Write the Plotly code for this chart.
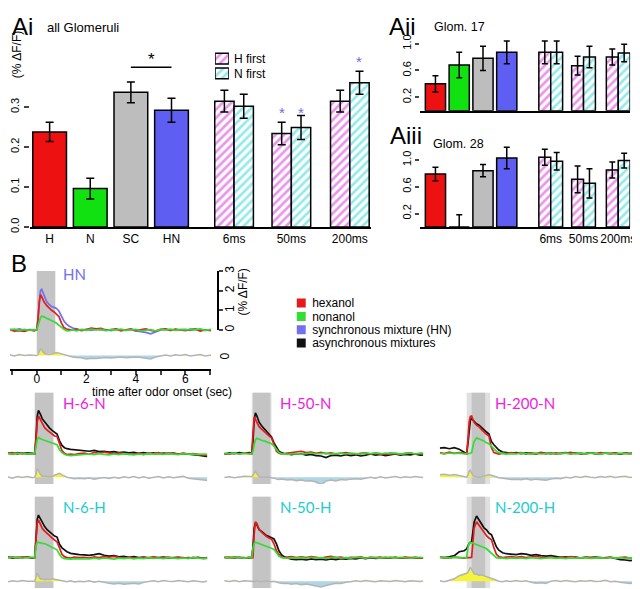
import plotly.graph_objects as go

# ------------------------------------------------------------------ data: panel A (bar charts)
SOLID_CATS = ["H", "N", "SC", "HN"]
DELAY_CATS = ["6ms", "50ms", "200ms"]
HATCH_LABELS = ["H first", "N first"]

AI_SOLID = [0.238, 0.096, 0.337, 0.292]
AI_SOLID_ERR = [0.024, 0.026, 0.026, 0.030]
AI_HFIRST = [0.315, 0.234, 0.315]
AI_HFIRST_ERR = [0.027, 0.028, 0.027]
AI_NFIRST = [0.302, 0.249, 0.361]
AI_NFIRST_ERR = [0.030, 0.030, 0.029]

AII_SOLID = [0.40, 0.68, 0.78, 0.87]
AII_SOLID_ERR = [0.12, 0.19, 0.18, 0.17]
AII_HFIRST = [0.87, 0.67, 0.80]
AII_HFIRST_ERR = [0.17, 0.14, 0.12]
AII_NFIRST = [0.87, 0.80, 0.86]
AII_NFIRST_ERR = [0.17, 0.16, 0.13]

AIII_SOLID = [0.79, 0.0, 0.84, 1.03]
AIII_SOLID_ERR = [0.10, 0.18, 0.09, 0.16]
AIII_HFIRST = [1.04, 0.71, 0.85]
AIII_HFIRST_ERR = [0.12, 0.20, 0.12]
AIII_NFIRST = [0.98, 0.65, 0.99]
AIII_NFIRST_ERR = [0.13, 0.22, 0.11]

# ------------------------------------------------------------------ data: panel B (time courses, % dF/F)
T = [-1.1, -0.9, -0.7, -0.5, -0.3, -0.1,
     0.0, 0.05, 0.1, 0.15, 0.2, 0.25, 0.3,
     0.4, 0.5, 0.6, 0.7, 0.8, 0.9, 1.0, 1.1, 1.2, 1.3,
     1.45, 1.6, 1.8,
     2.0, 2.2, 2.4, 2.6, 2.8, 3.0, 3.2, 3.4, 3.6, 3.8, 4.0, 4.2, 4.4, 4.6, 4.8,
     5.0, 5.2, 5.4, 5.6, 5.8, 6.0, 6.2, 6.4, 6.6, 6.8, 7.05]

HN_RED = [0.02, -0.06, -0.03, -0.07, 0.0, -0.05,
          0.0, 0.5, 1.4, 1.8, 1.7, 1.55, 1.42,
          1.25, 1.1, 1.0, 0.92, 0.82, 0.68, 0.35, 0.12, 0.05, 0.02,
          0.0, 0.04, -0.03,
          0.02, 0.1, 0.06, 0.08, -0.02, 0.03, 0.05, -0.04, 0.0, 0.06, -0.03, 0.02, 0.05,
          -0.02, -0.06, 0.03, 0.06, -0.02, 0.04, 0.0, -0.04, 0.03, 0.05, -0.06, 0.0, -0.03]
HN_GREEN = [0.0, 0.04, -0.02, 0.03, -0.02, 0.02,
            0.0, 0.2, 0.45, 0.62, 0.7, 0.7, 0.67,
            0.6, 0.55, 0.5, 0.42, 0.34, 0.22, 0.1, 0.03, -0.03, -0.05,
            0.02, -0.04, 0.03,
            -0.02, 0.04, 0.0, 0.03, -0.03, 0.02, 0.0, 0.04, -0.02, 0.01, 0.03, -0.04, 0.0,
            0.02, -0.05, 0.03, 0.0, 0.04, -0.02, 0.03, 0.0, 0.04, 0.02, 0.05, -0.02, 0.03]
HN_BLUE = [0.03, 0.0, 0.05, -0.02, 0.02, 0.0,
           0.0, 0.6, 1.6, 2.0, 2.07, 1.9, 1.75,
           1.45, 1.3, 1.2, 1.15, 1.1, 0.95, 0.7, 0.45, 0.3, 0.2,
           0.1, 0.05, 0.0,
           0.03, -0.02, 0.04, 0.0, 0.02, -0.03, 0.03, 0.0, -0.02, 0.02, -0.05, -0.08, -0.12,
           -0.2, -0.1, 0.0, 0.03, -0.02, 0.02, 0.0, 0.03, -0.02, 0.01, 0.03, -0.02, 0.0]
HN_DIFF = [0.04, -0.03, 0.05, 0.0, 0.03, 0.02,
           0.0, 0.05, 0.2, 0.33, 0.3, 0.18, 0.1,
           0.08, 0.05, 0.08, 0.12, 0.15, 0.12, 0.08, 0.04, 0.0, -0.04,
           -0.08, -0.1, -0.12,
           -0.18, -0.14, -0.16, -0.12, -0.1, -0.13, -0.1, -0.08, -0.12, -0.1, -0.08, -0.1, -0.14,
           -0.18, -0.08, -0.02, 0.03, -0.03, 0.04, 0.0, 0.05, -0.02, 0.03, 0.05, -0.03, 0.02]

H6N_BLACK = [0.03, -0.02, 0.05, 0.0, 0.04, 0.02,
             0.0, 0.8, 1.9, 2.2, 2.1, 1.95, 1.78,
             1.6, 1.45, 1.3, 1.18, 1.08, 1.0, 0.65, 0.42, 0.3, 0.25,
             0.22, 0.2, 0.15,
             0.15, 0.12, 0.16, 0.1, 0.12, 0.08, 0.1, 0.05, 0.08, 0.04, 0.06, 0.02, 0.05,
             0.0, 0.04, -0.02, 0.03, 0.0, 0.02, -0.03, 0.0, -0.02, -0.06, -0.08, -0.12, -0.16]
H6N_RED = [0.02, 0.05, -0.02, 0.03, -0.03, 0.0,
           0.0, 0.7, 1.6, 1.92, 1.8, 1.62, 1.48,
           1.32, 1.2, 1.1, 0.98, 0.9, 0.87, 0.45, 0.15, 0.02, -0.05,
           -0.03, -0.05, 0.0,
           0.03, -0.03, 0.06, 0.02, 0.08, 0.03, -0.02, 0.04, 0.0, -0.04, -0.02, 0.02, -0.05,
           0.03, 0.0, 0.05, -0.02, 0.03, 0.0, -0.03, 0.02, -0.02, 0.0, -0.05, -0.08, -0.1]
H6N_GREEN = [0.0, -0.03, 0.02, -0.02, 0.0, -0.03,
             0.0, 0.35, 0.7, 0.82, 0.8, 0.75, 0.72,
             0.68, 0.62, 0.58, 0.53, 0.5, 0.45, 0.2, 0.05, -0.03, -0.08,
             -0.1, -0.08, -0.05,
             -0.06, -0.02, -0.05, 0.0, -0.04, -0.06, -0.02, -0.05, 0.0, -0.03, -0.06, -0.02, -0.04,
             0.0, -0.03, -0.01, -0.04, 0.0, -0.02, -0.05, 0.0, -0.03, -0.02, -0.05, -0.02, -0.04]
H6N_DIFF = [0.02, -0.05, 0.03, -0.02, 0.03, -0.03,
            0.0, 0.15, 0.4, 0.35, 0.2, 0.1, 0.05,
            0.05, 0.03, 0.02, 0.05, 0.1, 0.18, 0.2, 0.12, 0.05, 0.0,
            -0.04, -0.08, -0.05,
            -0.08, -0.04, -0.1, -0.05, -0.02, -0.07, 0.0, -0.05, 0.02, -0.03, 0.03, -0.04, 0.02,
            -0.05, 0.0, 0.03, -0.04, 0.02, -0.03, 0.0, 0.04, -0.05, -0.08, -0.1, -0.15, -0.18]

H50N_BLACK = [-0.02, 0.04, 0.0, 0.05, 0.02, 0.05,
              0.0, 0.6, 1.7, 2.08, 1.95, 1.75, 1.6,
              1.42, 1.28, 1.15, 1.02, 0.85, 0.55, 0.3, 0.12, 0.05, 0.0,
              -0.02, -0.05, -0.02,
              0.0, -0.08, -0.04, -0.1, -0.12, -0.2, -0.1, -0.08, -0.12, -0.05, -0.1, -0.06, -0.12,
              -0.08, -0.02, -0.08, -0.04, -0.1, -0.05, -0.02, -0.08, -0.04, -0.06, -0.02, -0.08, -0.05]
H50N_RED = [0.0, -0.03, 0.03, -0.02, 0.02, 0.0,
            0.0, 1.0, 1.87, 1.75, 1.6, 1.48, 1.37,
            1.25, 1.12, 1.02, 0.9, 0.8, 0.45, 0.12, 0.02, -0.02, 0.0,
            0.03, 0.06, 0.1,
            0.12, 0.05, 0.08, 0.02, 0.06, 0.0, 0.04, -0.02, 0.03, 0.05, 0.0, -0.03, 0.02,
            0.04, -0.02, 0.03, 0.0, -0.04, 0.02, 0.0, -0.03, 0.02, 0.04, -0.02, 0.0, 0.02]
H50N_GREEN = [0.02, 0.0, 0.03, -0.02, 0.02, -0.02,
              0.0, 0.1, 0.45, 0.7, 0.78, 0.75, 0.72,
              0.68, 0.65, 0.6, 0.55, 0.5, 0.38, 0.22, 0.05, 0.0, -0.02,
              -0.04, -0.02, 0.0,
              -0.03, 0.0, 0.03, -0.02, 0.0, 0.02, -0.03, 0.0, 0.02, -0.02, 0.02, 0.0, -0.03,
              0.02, 0.0, 0.02, -0.02, 0.03, 0.0, 0.02, -0.03, 0.0, 0.03, -0.02, 0.02, 0.0]
H50N_DIFF = [-0.02, 0.02, -0.03, 0.02, 0.05, 0.04,
             0.02, 0.1, 0.22, 0.3, 0.2, 0.08, 0.02,
             0.0, -0.02, 0.02, 0.0, -0.02, -0.05, -0.1, -0.12, -0.1, -0.12,
             -0.15, -0.12, -0.18,
             -0.15, -0.2, -0.18, -0.25, -0.38, -0.2, -0.15, -0.2, -0.12, -0.15, -0.1, -0.08, -0.1,
             -0.04, 0.0, -0.05, 0.02, -0.04, 0.0, 0.03, -0.03, 0.02, -0.02, 0.03, 0.0, -0.03]

H200N_BLACK = [0.28, 0.3, 0.25, 0.3, 0.22, 0.08,
               0.0, 0.5, 1.3, 1.7, 1.78, 1.7, 1.62,
               1.52, 1.45, 1.32, 1.22, 1.1, 1.0, 0.62, 0.45, 0.3, 0.18,
               0.08, 0.05, 0.02,
               0.05, 0.0, 0.04, 0.02, -0.02, 0.03, 0.0, 0.04, -0.02, 0.02, 0.05, 0.0, 0.03,
               -0.02, 0.02, 0.04, 0.0, -0.02, 0.03, 0.0, 0.02, -0.03, 0.02, 0.0, 0.03, 0.0]
H200N_RED = [0.05, 0.0, 0.08, 0.02, 0.05, 0.0,
             0.0, 0.7, 1.6, 1.9, 1.92, 1.75, 1.6,
             1.45, 1.37, 1.22, 1.08, 0.98, 0.9, 0.3, 0.05, 0.0, -0.02,
             0.02, 0.0, 0.05,
             0.02, 0.05, -0.02, 0.04, 0.0, 0.06, 0.02, -0.02, 0.04, 0.0, 0.03, 0.06, 0.0,
             0.03, -0.02, 0.04, 0.0, 0.05, 0.02, 0.0, 0.04, -0.02, 0.03, 0.0, 0.05, 0.02]
H200N_GREEN = [0.02, -0.02, 0.03, 0.0, 0.02, -0.02,
               0.0, -0.02, 0.0, 0.02, 0.05, 0.35, 0.6,
               0.8, 0.76, 0.7, 0.64, 0.55, 0.5, 0.38, 0.25, 0.12, 0.05,
               0.0, -0.03, 0.0,
               -0.02, 0.02, 0.0, -0.03, 0.02, -0.02, 0.0, 0.03, -0.02, 0.0, 0.02, -0.03, 0.0,
               0.02, -0.02, 0.02, 0.0, -0.03, 0.02, 0.0, -0.02, 0.02, 0.0, -0.02, 0.02, 0.0]
H200N_DIFF = [0.12, 0.15, 0.1, 0.14, 0.08, 0.03,
              0.0, 0.1, 0.3, 0.35, 0.2, 0.08, 0.05,
              0.03, 0.0, 0.02, 0.05, 0.08, 0.12, 0.1, 0.05, 0.0, -0.03,
              -0.06, -0.1, -0.12,
              -0.1, -0.13, -0.08, -0.14, -0.1, -0.12, -0.16, -0.1, -0.05, -0.08, 0.0, -0.04, 0.03,
              -0.02, 0.04, 0.0, -0.03, 0.03, 0.0, 0.04, -0.02, 0.02, 0.05, -0.02, 0.03, 0.0]

N6H_BLACK = [0.03, -0.02, 0.02, 0.0, 0.04, -0.02,
             0.0, 0.9, 1.95, 2.17, 2.05, 1.9, 1.75,
             1.58, 1.42, 1.3, 1.17, 1.1, 1.05, 0.68, 0.5, 0.38, 0.3,
             0.22, 0.18, 0.15,
             0.14, 0.12, 0.15, 0.2, 0.12, 0.08, 0.1, 0.04, 0.06, 0.02, 0.05, 0.0, 0.03,
             -0.02, 0.02, 0.0, 0.03, -0.02, 0.0, 0.02, -0.03, 0.0, -0.02, 0.02, -0.04, -0.02]
N6H_RED = [0.0, 0.04, -0.02, 0.03, 0.0, 0.02,
           0.0, 0.9, 1.75, 1.92, 1.8, 1.62, 1.5,
           1.35, 1.25, 1.12, 1.0, 0.88, 0.8, 0.5, 0.17, 0.05, 0.0,
           -0.02, 0.03, 0.0,
           0.02, -0.02, 0.04, 0.0, 0.05, 0.02, 0.06, 0.0, -0.03, 0.02, 0.0, -0.03, 0.02,
           0.0, 0.04, -0.02, 0.0, 0.03, -0.02, 0.02, 0.0, -0.04, 0.02, 0.0, -0.03, 0.02]
N6H_GREEN = [-0.02, 0.02, 0.0, -0.03, 0.02, 0.0,
             0.0, 0.6, 0.78, 0.78, 0.76, 0.74, 0.73,
             0.72, 0.65, 0.58, 0.52, 0.45, 0.4, 0.17, 0.0, -0.05, -0.06,
             -0.08, -0.05, -0.06,
             -0.04, -0.07, -0.03, -0.06, -0.02, -0.05, -0.08, -0.03, -0.05, -0.02, -0.06, -0.03, -0.05,
             0.0, -0.04, -0.02, -0.05, 0.0, -0.03, -0.05, -0.02, -0.04, 0.0, -0.03, -0.05, -0.02]
N6H_DIFF = [-0.03, 0.02, -0.02, 0.03, 0.0, 0.02,
            0.0, 0.2, 0.4, 0.3, 0.15, 0.1, 0.12,
            0.08, 0.1, 0.08, 0.12, 0.1, 0.08, 0.05, 0.02, 0.0, -0.03,
            0.02, -0.04, 0.0,
            -0.03, 0.02, -0.05, 0.0, -0.06, -0.1, -0.14, -0.1, -0.15, -0.12, -0.1, -0.14, -0.06,
            -0.02, 0.02, -0.03, 0.03, 0.0, -0.02, 0.04, 0.0, -0.03, 0.02, 0.0, -0.04, 0.02]

N50H_BLACK = [0.02, -0.02, 0.03, 0.0, -0.02, 0.02,
              0.0, 0.5, 1.5, 1.78, 1.72, 1.55, 1.42,
              1.33, 1.22, 1.12, 1.08, 1.0, 0.95, 0.7, 0.35, 0.15, 0.05,
              -0.02, -0.08, -0.1,
              -0.08, -0.12, -0.06, -0.1, -0.08, -0.12, -0.06, -0.1, -0.05, -0.08, -0.04, -0.06, -0.02,
              -0.05, 0.0, -0.04, -0.02, 0.0, -0.03, 0.02, -0.02, 0.0, -0.03, 0.0, -0.02, 0.0]
N50H_RED = [0.0, 0.03, -0.02, 0.02, 0.0, -0.03,
            0.0, 0.0, 1.2, 1.83, 1.75, 1.6, 1.45,
            1.3, 1.17, 1.08, 1.0, 0.94, 0.7, 0.35, 0.15, 0.03, 0.0,
            0.02, 0.05, 0.0,
            0.04, 0.0, 0.05, 0.02, -0.02, 0.03, 0.06, 0.0, 0.03, -0.02, 0.02, 0.0, 0.04,
            -0.02, 0.02, 0.0, 0.03, -0.03, 0.02, 0.0, -0.02, 0.03, 0.0, 0.02, -0.02, 0.0]
N50H_GREEN = [0.0, -0.02, 0.03, 0.0, -0.02, 0.02,
              0.0, 0.5, 0.72, 0.78, 0.76, 0.72, 0.7,
              0.67, 0.62, 0.58, 0.55, 0.48, 0.42, 0.25, 0.08, 0.0, -0.02,
              -0.03, 0.0, -0.02,
              0.0, -0.03, 0.02, -0.02, 0.0, -0.04, 0.0, 0.02, -0.03, 0.0, -0.02, 0.02, 0.0,
              -0.03, 0.02, 0.0, -0.02, 0.03, 0.0, -0.02, 0.02, 0.0, -0.03, 0.0, 0.02, -0.02]
N50H_DIFF = [0.02, -0.02, 0.03, -0.03, 0.02, 0.0,
             0.0, 0.02, 0.0, -0.02, 0.02, 0.0, -0.03,
             0.0, -0.02, 0.02, 0.0, -0.03, 0.0, -0.05, -0.08, -0.1, -0.12,
             -0.1, -0.15, -0.12,
             -0.18, -0.15, -0.2, -0.22, -0.3, -0.22, -0.15, -0.1, -0.12, -0.05, -0.03, 0.02, -0.02,
             0.03, 0.0, -0.03, 0.02, 0.0, -0.02, 0.03, 0.0, -0.03, 0.02, 0.0, -0.02, 0.02]

N200H_BLACK = [0.02, 0.0, 0.04, 0.1, 0.3, 0.35,
               0.45, 0.6, 0.72, 0.78, 0.8, 1.3, 1.8,
               2.12, 1.9, 1.67, 1.52, 1.42, 1.25, 1.17, 0.85, 0.55, 0.38,
               0.25, 0.2, 0.17,
               0.15, 0.2, 0.18, 0.12, 0.15, 0.1, 0.08, 0.1, 0.05, 0.02, 0.04, 0.0, 0.03,
               -0.02, 0.02, 0.0, 0.03, 0.0, -0.02, 0.02, -0.05, -0.1, -0.12, -0.15, -0.12, -0.14]
N200H_RED = [0.02, 0.0, -0.02, 0.03, 0.0, -0.02,
             0.0, 0.0, -0.02, 0.0, 0.02, 0.9, 1.5,
             1.83, 1.65, 1.42, 1.25, 1.12, 1.0, 0.92, 0.5, 0.17, 0.05,
             0.0, 0.03, 0.05,
             0.02, 0.05, 0.0, 0.04, 0.06, 0.02, 0.0, 0.04, -0.02, 0.03, 0.0, 0.05, 0.02,
             -0.02, 0.03, 0.0, 0.02, -0.03, 0.0, 0.03, -0.02, 0.0, 0.03, -0.02, 0.0, 0.02]
N200H_GREEN = [0.0, 0.02, -0.02, 0.03, 0.0, 0.02,
               0.0, 0.5, 0.72, 0.78, 0.76, 0.72, 0.7,
               0.67, 0.62, 0.58, 0.52, 0.45, 0.33, 0.2, 0.08, 0.0, -0.03,
               -0.02, -0.05, -0.02,
               -0.04, -0.02, -0.05, 0.0, -0.03, -0.05, -0.02, 0.0, -0.04, -0.02, -0.05, 0.0, -0.03,
               -0.02, 0.0, -0.04, -0.02, 0.0, -0.03, 0.02, -0.02, 0.0, -0.03, 0.0, -0.02, 0.0]
N200H_DIFF = [0.02, -0.03, 0.05, 0.12, 0.28, 0.35,
              0.4, 0.45, 0.55, 0.7, 0.6, 0.45, 0.38,
              0.35, 0.3, 0.32, 0.28, 0.25, 0.22, 0.15, 0.1, 0.05, 0.0,
              -0.03, 0.02, -0.02,
              0.03, -0.02, 0.02, -0.05, -0.1, -0.08, -0.12, 0.0, 0.04, -0.02, 0.03, 0.0, -0.03,
              0.02, 0.0, 0.04, -0.02, 0.0, 0.05, -0.03, 0.0, -0.05, -0.1, -0.12, -0.08, -0.05]

LOWER_TITLES = ["H-6-N", "H-50-N", "H-200-N", "N-6-H", "N-50-H", "N-200-H"]
LOWER_DELAYS = [0.006, 0.05, 0.2, 0.006, 0.05, 0.2]   # s between first and second odor
ODOR_DURATION = 0.75                                 # s
LEGEND_LABELS = ["hexanol", "nonanol", "synchronous mixture (HN)", "asynchronous mixtures"]

for arr in [HN_RED, HN_GREEN, HN_BLUE, HN_DIFF, H6N_BLACK, H6N_RED, H6N_GREEN, H6N_DIFF,
            H50N_BLACK, H50N_RED, H50N_GREEN, H50N_DIFF, H200N_BLACK, H200N_RED, H200N_GREEN,
            H200N_DIFF, N6H_BLACK, N6H_RED, N6H_GREEN, N6H_DIFF, N50H_BLACK, N50H_RED,
            N50H_GREEN, N50H_DIFF, N200H_BLACK, N200H_RED, N200H_GREEN, N200H_DIFF]:
    assert len(arr) == len(T), len(arr)

# ------------------------------------------------------------------ styling / layout helpers
W, H = 640, 589
def fx(x): return x / W
def fy(y): return 1 - y / H

FONT = "Liberation Sans, Arial, sans-serif"
TFONT = "Lato, Liberation Sans, sans-serif"
RED, GREEN, BLUE, BLACK, GRAYBAR = "#ee1111", "#11e011", "#5e5ef2", "#111111", "#bdbdbd"
TR_RED, TR_GREEN, TR_BLUE = "#e41a1c", "#33dd33", "#7070f0"
MAGENTA, CYAN = "#d52ad5", "#2ad5d5"
TITLE_MAG, TITLE_CYAN = "#ee22dd", "#22cccc"
STAR_BLUE = "#6b6be0"
YELLOW, LBLUE, DGRAY = "#f4f43a", "#aed6e6", "#b4b4b4"
BOX_DARK, BOX_LIGHT = "#c4c4c4", "#e0e0e0"

fig = go.Figure()

def bar_panel(n, solid, solid_err, hf, hf_err, nf, nf_err, solid_pos, group_pos, sw, hw, capw):
    xa, ya = ("x", "y") if n == 1 else (f"x{n}", f"y{n}")
    fig.add_trace(go.Bar(x=solid_pos, y=solid, width=sw, xaxis=xa, yaxis=ya, cliponaxis=False,
                         marker=dict(color=[RED, GREEN, GRAYBAR, BLUE], line=dict(color="black", width=1.5)),
                         error_y=dict(type="data", array=solid_err, color="black", thickness=1.5, width=capw)))
    for vals, errs, col, off in [(hf, hf_err, MAGENTA, -hw), (nf, nf_err, CYAN, 0)]:
        fig.add_trace(go.Bar(x=group_pos, y=vals, width=hw, offset=off, xaxis=xa, yaxis=ya, cliponaxis=False,
                             marker=dict(color="white", line=dict(color="black", width=1.5),
                                         pattern=dict(shape="/", fgcolor=col, bgcolor="white", size=6, solidity=0.45)),
                             error_y=dict(type="data", array=errs, color="black", thickness=1.5, width=capw)))

AI_SOLID_POS, AI_GROUP_POS = [1, 2, 3, 4], [5.54, 6.95, 8.39]
AII_SOLID_POS, AII_GROUP_POS = [1, 2, 3, 4], [5.85, 7.23, 8.69]
bar_panel(1, AI_SOLID, AI_SOLID_ERR, AI_HFIRST, AI_HFIRST_ERR, AI_NFIRST, AI_NFIRST_ERR,
          AI_SOLID_POS, AI_GROUP_POS, 0.83, 0.476, 4)
bar_panel(2, AII_SOLID, AII_SOLID_ERR, AII_HFIRST, AII_HFIRST_ERR, AII_NFIRST, AII_NFIRST_ERR,
          AII_SOLID_POS, AII_GROUP_POS, 0.85, 0.5, 3)
bar_panel(3, AIII_SOLID, AIII_SOLID_ERR, AIII_HFIRST, AIII_HFIRST_ERR, AIII_NFIRST, AIII_NFIRST_ERR,
          AII_SOLID_POS, AII_GROUP_POS, 0.85, 0.5, 3)

# hatched legend for Ai, drawn as a tiny horizontal bar chart whose labels are axis ticks
fig.add_trace(go.Bar(x=[1, 1], y=HATCH_LABELS, orientation="h", width=0.72, xaxis="x13", yaxis="y13",
                     cliponaxis=False,
                     marker=dict(color="white", line=dict(color="black", width=1.5),
                                 pattern=dict(shape="/", fgcolor=[MAGENTA, CYAN], bgcolor="white",
                                              size=6, solidity=0.45))))

# ---- B: time courses
def diff_traces(xa, ya, d, offset):
    base = [offset] * len(d)
    pos = [offset + max(v, 0) for v in d]
    neg = [offset + min(v, 0) for v in d]
    common = dict(x=T, xaxis=xa, yaxis=ya, mode="lines", hoverinfo="skip")
    fig.add_trace(go.Scatter(y=base, line=dict(width=0), **common))
    fig.add_trace(go.Scatter(y=pos, fill="tonexty", fillcolor=YELLOW, line=dict(width=0), **common))
    fig.add_trace(go.Scatter(y=base, line=dict(width=0), **common))
    fig.add_trace(go.Scatter(y=neg, fill="tonexty", fillcolor=LBLUE, line=dict(width=0), **common))
    fig.add_trace(go.Scatter(y=[offset + v for v in d], line=dict(color=DGRAY, width=1.5), **common))

def trace(xa, ya, vals, color):
    fig.add_trace(go.Scatter(x=T, y=vals, xaxis=xa, yaxis=ya, mode="lines",
                             line=dict(color=color, width=1.7)))

# top HN panel
diff_traces("x4", "y4", HN_DIFF, -1.3)
trace("x4", "y4", HN_BLUE, TR_BLUE)
trace("x4", "y4", HN_RED, TR_RED)
trace("x4", "y4", HN_GREEN, TR_GREEN)
fig.add_trace(go.Scatter(x=[None], y=[None], xaxis="x4", yaxis="y5", mode="lines"))  # scale bar axis

LOWER_DATA = [
    (H6N_BLACK, H6N_RED, H6N_GREEN, H6N_DIFF),
    (H50N_BLACK, H50N_RED, H50N_GREEN, H50N_DIFF),
    (H200N_BLACK, H200N_RED, H200N_GREEN, H200N_DIFF),
    (N6H_BLACK, N6H_RED, N6H_GREEN, N6H_DIFF),
    (N50H_BLACK, N50H_RED, N50H_GREEN, N50H_DIFF),
    (N200H_BLACK, N200H_RED, N200H_GREEN, N200H_DIFF),
]
for k, (blk, red, grn, dif) in enumerate(LOWER_DATA):
    n = 6 + k
    xa, ya = f"x{n}", f"y{n}"
    diff_traces(xa, ya, dif, -1.2)
    trace(xa, ya, blk, BLACK)
    trace(xa, ya, red, TR_RED)
    trace(xa, ya, grn, TR_GREEN)

# legend of B as a categorical marker column with labels as tick text
fig.add_trace(go.Scatter(x=[0, 0, 0, 0], y=LEGEND_LABELS, mode="markers", xaxis="x12", yaxis="y12",
                         marker=dict(symbol="square", size=9, color=[TR_RED, TR_GREEN, TR_BLUE, BLACK])))

# ------------------------------------------------------------------ layout
hidden = dict(visible=False, showgrid=False, zeroline=False)
lay = dict(width=W, height=H, margin=dict(l=0, r=0, t=0, b=0), showlegend=False,
           paper_bgcolor="white", plot_bgcolor="rgba(0,0,0,0)", barmode="overlay",
           font=dict(family=FONT, color="black", size=12))

# Ai
lay["xaxis"] = dict(domain=[fx(22), fx(366)], range=[0.512, 8.90], anchor="y", showgrid=False,
                    zeroline=False, showline=True, linecolor="black", linewidth=1.5, ticks="",
                    tickvals=AI_SOLID_POS + AI_GROUP_POS, ticktext=SOLID_CATS + DELAY_CATS,
                    tickfont=dict(size=12))
lay["yaxis"] = dict(domain=[fy(218), fy(20)], range=[0, 0.4865], anchor="x", showgrid=False,
                    zeroline=False, showline=False, ticks="outside", ticklen=5, tickwidth=1.5,
                    tickvals=[0, 0.1, 0.2, 0.3], ticktext=["0.0", "0.1", "0.2", "0.3"],
                    tickangle=-90, tickfont=dict(size=11))
# Aii / Aiii
for n, (top, bot, rng) in {2: (25, 99.5, 1.091), 3: (128, 218, 1.318)}.items():
    lay[f"xaxis{n}"] = dict(domain=[fx(416), fx(628)], range=[0.354, 9.19], anchor=f"y{n}",
                            showgrid=False, zeroline=False, showline=True, linecolor="black",
                            linewidth=1.5, ticks="", tickvals=AII_GROUP_POS, ticktext=DELAY_CATS,
                            showticklabels=(n == 3), tickfont=dict(size=12))
    lay[f"yaxis{n}"] = dict(domain=[fy(bot), fy(top)], range=[0, rng], anchor=f"x{n}",
                            showgrid=False, zeroline=False, showline=False, ticks="outside",
                            ticklen=4, tickwidth=1.5, tickvals=[0.2, 0.6, 1.0],
                            ticktext=["0.2", "0.6", "1.0"], tickangle=-90, tickfont=dict(size=11))
# hatched legend axes
lay["xaxis13"] = dict(domain=[fx(209), fx(223)], range=[0, 1], anchor="y13", **hidden)
lay["yaxis13"] = dict(domain=[fy(69), fy(39)], anchor="x13", type="category", autorange="reversed",
                      side="right", showgrid=False, zeroline=False, showline=False, ticks="",
                      tickmode="array", tickvals=HATCH_LABELS,
                      tickfont=dict(size=12), ticklabelstandoff=4)
# B top
lay["xaxis4"] = dict(domain=[fx(2), fx(205)], range=[-1.08, 7.04], anchor="y4", showgrid=False,
                     zeroline=False, showline=True, linecolor="black", linewidth=1.5,
                     ticks="outside", ticklen=4, tickwidth=1.5, tickvals=list(range(-1, 8)),
                     ticktext=["", "0", "", "2", "", "4", "", "6", ""], tickfont=dict(size=12),
                     ticklabelstandoff=-6)
lay["yaxis4"] = dict(domain=[fy(363), fy(263)], range=[-2.0, 3.0], anchor="x4", **hidden)
lay["yaxis5"] = dict(domain=[fy(323), fy(263)], range=[0, 3], anchor="free", position=fx(212),
                     side="right", showgrid=False, zeroline=False, showline=True, linecolor="black",
                     linewidth=1.5, ticks="outside", ticklen=4, tickwidth=1.5,
                     tickvals=[0, 1, 2, 3], tickangle=-90, tickfont=dict(size=12),
                     ticklabelstandoff=-3)
# B lower panels
COLS = [(0, 201, 27), (218, 419, 246), (436, 639, 463)]     # px left, px right, px of t=0
ROWS = [(387, 480, 449), (493, 586, 555)]                   # px top, px bottom, px of baseline
PX_PER_UNIT_T, PX_PER_UNIT_Y = 25.0, 20.0
shapes, annotations = [], []
for k in range(6):
    n = 6 + k
    cl, cr, c0 = COLS[k % 3]
    rt, rb, r0 = ROWS[k // 3]
    lay[f"xaxis{n}"] = dict(domain=[fx(cl), fx(cr)], anchor=f"y{n}",
                            range=[(cl - c0) / PX_PER_UNIT_T, (cr - c0) / PX_PER_UNIT_T], **hidden)
    lay[f"yaxis{n}"] = dict(domain=[fy(rb), fy(rt)], anchor=f"x{n}",
                            range=[(r0 - rb) / PX_PER_UNIT_Y, (r0 - rt) / PX_PER_UNIT_Y], **hidden)
    d = LOWER_DELAYS[k]
    shapes.append(dict(type="rect", xref=f"x{n}", yref=f"y{n} domain", x0=0, x1=d + ODOR_DURATION,
                       y0=0, y1=1, fillcolor=BOX_LIGHT, line=dict(width=0), layer="below"))
    shapes.append(dict(type="rect", xref=f"x{n}", yref=f"y{n} domain", x0=d, x1=ODOR_DURATION,
                       y0=0, y1=1, fillcolor=BOX_DARK, line=dict(width=0), layer="below"))
    annotations.append(dict(text=LOWER_TITLES[k], xref=f"x{n}", yref="paper", x=1.05,
                            y=fy(rt + 10), xanchor="left", yanchor="middle", showarrow=False,
                            font=dict(family=TFONT, size=15,
                                      color=TITLE_MAG if k < 3 else TITLE_CYAN)))
shapes.append(dict(type="rect", xref="x4", yref="y4", x0=0, x1=ODOR_DURATION, y0=-1.2, y1=3.0,
                   fillcolor=BOX_DARK, line=dict(width=0), layer="below"))
# B legend axes
lay["xaxis12"] = dict(domain=[fx(291), fx(301)], range=[-1, 1], anchor="y12", **hidden)
lay["yaxis12"] = dict(domain=[fy(345), fy(287)], anchor="x12", type="category", autorange="reversed",
                      side="right", showgrid=False, zeroline=False, showline=False, ticks="",
                      tickmode="array", tickvals=LEGEND_LABELS,
                      tickfont=dict(size=12), ticklabelstandoff=5)

# significance bracket in Ai
shapes.append(dict(type="line", xref="x", yref="y", x0=3, x1=4, y0=0.40, y1=0.40,
                   line=dict(color="black", width=1.5)))

def txt(s, x, y, size=12, color="black", xanchor="left", angle=0, family=FONT):
    annotations.append(dict(text=s, x=fx(x), y=fy(y), xref="paper", yref="paper", showarrow=False,
                            xanchor=xanchor, yanchor="middle", textangle=angle,
                            font=dict(family=family, size=size, color=color)))

txt("Ai", 2, 14, 24)
txt("all Glomeruli", 37, 15, 13)
txt("(% ΔF/F)", 9, 42, 12, angle=-90, xanchor="center")
txt("*", 145, 47, 17, xanchor="center")
txt("*", 276.5, 101, 15, STAR_BLUE, "center")
txt("*", 296, 101, 15, STAR_BLUE, "center")
txt("*", 354.6, 49, 15, STAR_BLUE, "center")
txt("Aii", 383, 14, 24)
txt("Glom. 17", 428, 14, 12.5)
txt("Aiii", 384, 125, 24)
txt("Glom. 28", 427, 134, 12.5)
txt("B", 1, 255, 24)
txt("HN", 53, 266, 15, TR_BLUE, family=TFONT)
txt("0", 220, 349, 12, angle=-90, xanchor="center")
txt("(% ΔF/F)", 237, 284, 12, angle=-90, xanchor="center")
txt("time after odor onset (sec)", 155, 386, 12, xanchor="center")

lay["shapes"] = shapes
lay["annotations"] = annotations
fig.update_layout(**lay)
fig.write_html("out.html")
